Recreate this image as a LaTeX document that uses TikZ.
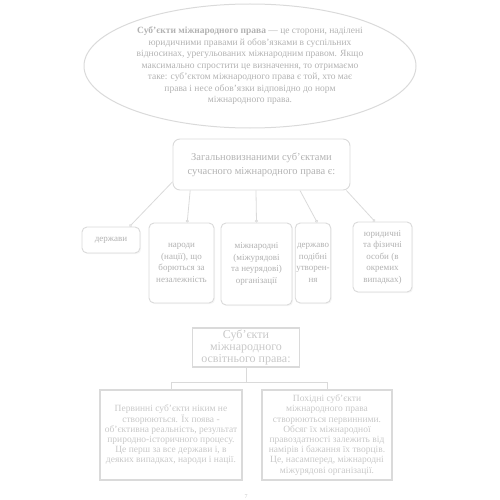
\documentclass[tikz,border=0pt]{standalone}
\usepackage{fontspec}
\setmainfont{Liberation Serif}
\usepackage{tikz}
\usetikzlibrary{arrows.meta, shapes.geometric, positioning, calc, shadows}
\usepackage{xcolor}
\definecolor{TextGray}{RGB}{178,178,178}
\definecolor{PaleGray}{RGB}{200,200,200}
\definecolor{LineGray}{RGB}{218,218,218}

\begin{document}
\begin{tikzpicture}[
  x=1pt, y=-1pt,
  oval/.style={
    ellipse,
    draw=LineGray,
    line width=1pt,
    minimum width=332pt,
    minimum height=124pt,
    align=center,
    inner sep=0pt,
    text=TextGray,
    font=\fontsize{9.5}{11.5}\selectfont
  },
  headbox/.style={
    draw=LineGray,
    line width=0.9pt,
    rounded corners=7pt,
    minimum width=177pt,
    minimum height=51pt,
    align=center,
    text=TextGray,
    font=\fontsize{10.5}{14}\selectfont
  },
  kind/.style={
    draw=LineGray,
    fill=white,
    line width=0.9pt,
    rounded corners=5pt,
    drop shadow={shadow xshift=1.2pt, shadow yshift=-1.2pt, fill=black!7},
    align=center,
    inner xsep=1pt,
    text=TextGray,
    font=\fontsize{9}{11.5}\selectfont
  },
  groupbox/.style={
    draw=LineGray,
    line width=1.2pt,
    minimum width=107pt,
    minimum height=39pt,
    align=center,
    inner sep=0pt,
    text=PaleGray,
    font=\fontsize{12}{12}\selectfont
  },
  notebox/.style={
    draw=LineGray,
    line width=1.6pt,
    minimum height=90pt,
    align=center,
    inner sep=0pt,
    text=PaleGray,
    font=\fontsize{9.5}{10.2}\selectfont
  },
  link/.style={-{Circle[open, length=3pt]}, LineGray, line width=0.8pt},
  tie/.style={LineGray, line width=0.9pt}
]
\useasboundingbox (0,0) rectangle (500,500);

\node[oval] (def) at (250,66)
  {\textbf{Суб'єкти міжнародного права} — це сторони, наділені\\
   юридичними правами й обов'язками в суспільних\\
   відносинах, урегульованих міжнародним правом. Якщо\\
   максимально спростити це визначення, то отримаємо\\
   таке: суб'єктом міжнародного права є той, хто має\\
   права і несе обов'язки відповідно до норм\\
   міжнародного права.};

\node[headbox] (common) at (261.5,164.5)
  {Загальновизнаними суб'єктами\\ сучасного міжнародного права є:};

\node[kind, minimum width=58pt, minimum height=26pt] (states) at (111,240)
  {держави};
\node[kind, minimum width=65pt, minimum height=80pt] (nations) at (181.5,263)
  {народи\\ (нації), що\\ борються за\\ незалежність};
\node[kind, minimum width=71pt, minimum height=82pt] (orgs) at (256.5,264)
  {міжнародні\\ (міжурядові\\ та неурядові)\\ організації};
\node[kind, minimum width=30pt, minimum height=80pt] (quasi) at (313,263)
  {державо\\ подібні\\ утворен-\\ ня};
\node[kind, minimum width=59pt, minimum height=70pt] (persons) at (382.5,257)
  {юридичні\\ та фізичні\\ особи (в\\ окремих\\ випадках)};

\draw[link] (common.191) -- (states.36);
\draw[link] (common.200) -- (nations.82);
\draw[link] (common.258) -- (orgs.north);
\draw[link] (common.326) -- (quasi.84);
\draw[link] (common.343) -- (persons.102);

\node[groupbox] (edu) at (246,347.5)
  {Суб'єкти\\ міжнародного\\ освітнього права:};

\node[notebox, minimum width=142pt] (primary) at (171,435)
  {Первинні суб'єкти ніким не\\
   створюються. Їх поява -\\
   об'єктивна реальність, результат\\
   природно-історичного процесу.\\
   Це перш за все держави і, в\\
   деяких випадках, народи і нації.};
\node[notebox, minimum width=130pt] (derived) at (327,435)
  {Похідні суб'єкти\\
   міжнародного права\\
   створюються первинними.\\
   Обсяг їх міжнародної\\
   правоздатності залежить від\\
   намірів і бажання їх творців.\\
   Це, насамперед, міжнародні\\
   міжурядові організації.};

\coordinate (split) at (246,382);
\draw[tie] (edu.south) -- (split);
\draw[tie] (split) -| (primary.north);
\draw[tie] (split) -| (derived.north);

\node[text=PaleGray, font=\fontsize{6}{6}\selectfont] (page) at (246,497) {7};

\end{tikzpicture}
\end{document}
